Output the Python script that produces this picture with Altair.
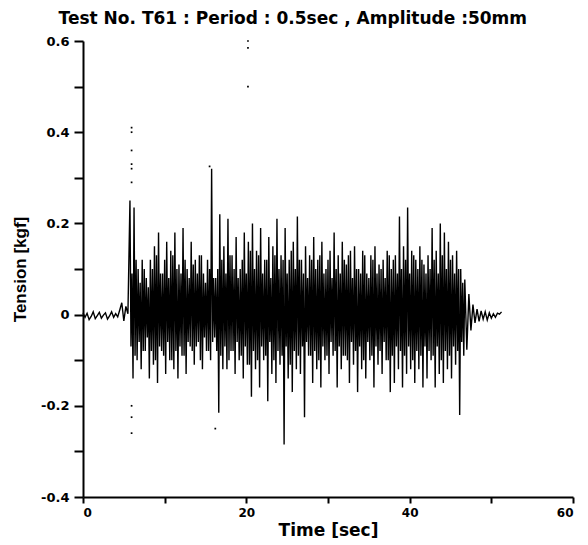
import altair as alt
import pandas as pd

# quiet start, t = 0 .. 5.5 s every 0.25 s
quiet_vals = [0.004, -0.006, 0.003, -0.011, -0.004, 0.006, -0.009, -0.002, 0.005, -0.008,
              -0.001, 0.004, -0.010, -0.003, 0.006, -0.006, 0.002, -0.005, 0.010, 0.026,
              -0.014, 0.018, 0.002]

# active part, per 0.5 s cycle starting at t = 5.75 s:
# big peak (t), dip (t+0.125), rise (t+0.25), big trough (t+0.375)
peaks = [0.25, 0.235, 0.10, 0.12, 0.08,
         0.12, 0.15, 0.18, 0.09, 0.16, 0.14, 0.18, 0.11,
         0.19, 0.10, 0.16, 0.12, 0.13, 0.09, 0.12,
         0.32, 0.08, 0.22,
         0.15, 0.21, 0.13, 0.17, 0.10, 0.18,
         0.16,
         0.20, 0.14, 0.19, 0.12, 0.17, 0.15, 0.21,
         0.13,
         0.19, 0.12, 0.16,
         0.215, 0.12,
         0.15, 0.13, 0.17, 0.12, 0.16, 0.10, 0.14,
         0.18,
         0.13, 0.16, 0.11, 0.14,
         0.15, 0.10, 0.14, 0.09, 0.13, 0.15, 0.11, 0.12, 0.14, 0.10, 0.13,
         0.215, 0.15, 0.235,
         0.14, 0.12, 0.15, 0.11, 0.13,
         0.19, 0.14, 0.20, 0.18, 0.16, 0.13, 0.14, 0.10]
small_neg = [-0.07, -0.09, -0.06, -0.08, -0.05,
             -0.08, -0.10, -0.07, -0.09, -0.06, -0.10, -0.08, -0.07,
             -0.09, -0.06, -0.08, -0.07, -0.10, -0.05, -0.08,
             -0.06, -0.08, -0.09,
             -0.07, -0.10, -0.08, -0.06, -0.09, -0.07,
             -0.11,
             -0.08, -0.10, -0.07, -0.09, -0.06, -0.10, -0.08,
             -0.09,
             -0.07, -0.11, -0.08,
             -0.09, -0.07,
             -0.06, -0.09, -0.08, -0.10, -0.07, -0.09, -0.06,
             -0.08,
             -0.07, -0.09, -0.10, -0.06,
             -0.08, -0.07, -0.10, -0.06, -0.09, -0.07, -0.08, -0.06, -0.10, -0.09, -0.07,
             -0.08, -0.09, -0.07,
             -0.10, -0.08, -0.09, -0.07, -0.08,
             -0.09, -0.07, -0.10, -0.08, -0.09, -0.07, -0.08, -0.06]
small_pos = [0.09, 0.12, 0.07, 0.10, 0.06,
             0.10, 0.13, 0.09, 0.12, 0.08, 0.13, 0.10, 0.09,
             0.12, 0.08, 0.11, 0.09, 0.13, 0.07, 0.10,
             0.08, 0.10, 0.12,
             0.09, 0.13, 0.10, 0.08, 0.12, 0.09,
             0.14,
             0.10, 0.13, 0.09, 0.12, 0.08, 0.13, 0.10,
             0.12,
             0.09, 0.14, 0.10,
             0.12, 0.09,
             0.08, 0.12, 0.10, 0.13, 0.09, 0.12, 0.08,
             0.10,
             0.09, 0.12, 0.13, 0.08,
             0.10, 0.09, 0.13, 0.08, 0.12, 0.09, 0.10, 0.08, 0.13, 0.12, 0.09,
             0.10, 0.12, 0.09,
             0.13, 0.10, 0.12, 0.09, 0.10,
             0.12, 0.09, 0.13, 0.10, 0.12, 0.09, 0.10, 0.07]
troughs = [-0.14, -0.10, -0.12, -0.08, -0.14,
           -0.11, -0.15, -0.08, -0.13, -0.10, -0.12, -0.14, -0.09,
           -0.13, -0.07, -0.11, -0.06, -0.12, -0.08, -0.10,
           -0.05, -0.215, -0.12,
           -0.12, -0.08, -0.13, -0.10, -0.14, -0.11,
           -0.18,
           -0.12, -0.16, -0.10, -0.19, -0.13, -0.15, -0.11,
           -0.285,
           -0.14, -0.17, -0.12,
           -0.13, -0.225,
           -0.09, -0.15, -0.12, -0.16, -0.10, -0.13, -0.09,
           -0.16,
           -0.12, -0.09, -0.15, -0.11,
           -0.17, -0.12, -0.14, -0.10, -0.16, -0.11, -0.13, -0.10, -0.17, -0.15, -0.12,
           -0.16, -0.13, -0.12,
           -0.15, -0.12, -0.16, -0.14, -0.10,
           -0.16, -0.13, -0.15, -0.12, -0.14, -0.11, -0.22, -0.09]

# decay, t = 46.75 .. 51.25 s every 0.25 s
decay_vals = [0.077, -0.077, 0.045, -0.035, 0.022, -0.018, 0.012, -0.015, 0.008, -0.010,
              0.006, -0.012, 0.004, -0.008, 0.002, -0.006, 0.003, 0.001, 0.006]

# isolated sampled points of the sharp snap spikes
dot_t = [5.95, 5.95, 5.95, 5.95, 5.95, 5.95, 5.95, 5.95, 5.95, 20.2, 20.2, 20.2, 15.5, 16.2]
dot_v = [0.41, 0.40, 0.36, 0.33, 0.32, 0.29, -0.20, -0.225, -0.26, 0.60, 0.585, 0.50, 0.325, -0.25]

y_ticks = [-0.4, -0.3, -0.2, -0.1, 0, 0.1, 0.2, 0.3, 0.4, 0.5, 0.6]
x_ticks = [0, 10, 20, 30, 40, 50, 60]

t_list, v_list = [], []
for i, v in enumerate(quiet_vals):
    t_list.append(0.25 * i)
    v_list.append(v)
for k in range(len(peaks)):
    t0 = 5.75 + 0.5 * k
    for j, v in enumerate((peaks[k], small_neg[k], small_pos[k], troughs[k])):
        t_list.append(t0 + 0.125 * j)
        v_list.append(v)
for i, v in enumerate(decay_vals):
    t_list.append(46.75 + 0.25 * i)
    v_list.append(v)

line_df = pd.DataFrame({"t": t_list, "v": v_list})
dot_df = pd.DataFrame({"t": dot_t, "v": dot_v})

xs = alt.Scale(domain=[0, 60], nice=False, zero=False)
ys = alt.Scale(domain=[-0.4, 0.6], nice=False, zero=False)

x_axis = alt.Axis(values=x_ticks, title="Time [sec]", grid=False,
                  labelExpr="datum.value % 20 == 0 ? toString(datum.value) : ''",
                  tickSize=6, tickWidth=2, tickColor="black", domainColor="black", domainWidth=2,
                  labelFont="DejaVu Sans", labelFontWeight="bold", labelFontSize=12, labelColor="black",
                  labelPadding=4, titleFont="DejaVu Sans", titleFontWeight="bold", titleFontSize=17,
                  titleColor="black", titlePadding=4)
y_axis = alt.Axis(values=y_ticks, title="Tension [kgf]", grid=False,
                  labelExpr="round(datum.value*10) % 2 == 0 ? toString(datum.value) : ''",
                  tickSize=9, tickWidth=2, tickColor="black", domainColor="black", domainWidth=2,
                  labelFont="DejaVu Sans", labelFontWeight="bold", labelFontSize=13, labelColor="black",
                  labelPadding=5, titleFont="Liberation Sans", titleFontWeight="bold", titleFontSize=17,
                  titleColor="black", titlePadding=11)

line = alt.Chart(line_df).mark_line(color="black", strokeWidth=1.4, interpolate="linear").encode(
    x=alt.X("t:Q", scale=xs, axis=x_axis),
    y=alt.Y("v:Q", scale=ys, axis=y_axis),
)
dots = alt.Chart(dot_df).mark_square(color="black", size=3, opacity=1).encode(
    x=alt.X("t:Q", scale=xs),
    y=alt.Y("v:Q", scale=ys),
)

chart = (line + dots).properties(
    width=490, height=456,
    title=alt.TitleParams("Test No. T61 : Period : 0.5sec , Amplitude :50mm",
                          font="DejaVu Sans", fontSize=17, fontWeight="bold", color="black",
                          anchor="middle", frame="bounds", offset=7),
    padding={"left": 3, "top": 2, "right": 5, "bottom": 5},
).configure_view(stroke=None)

chart.save("out.html", embed_options={"renderer": "svg", "actions": False})
